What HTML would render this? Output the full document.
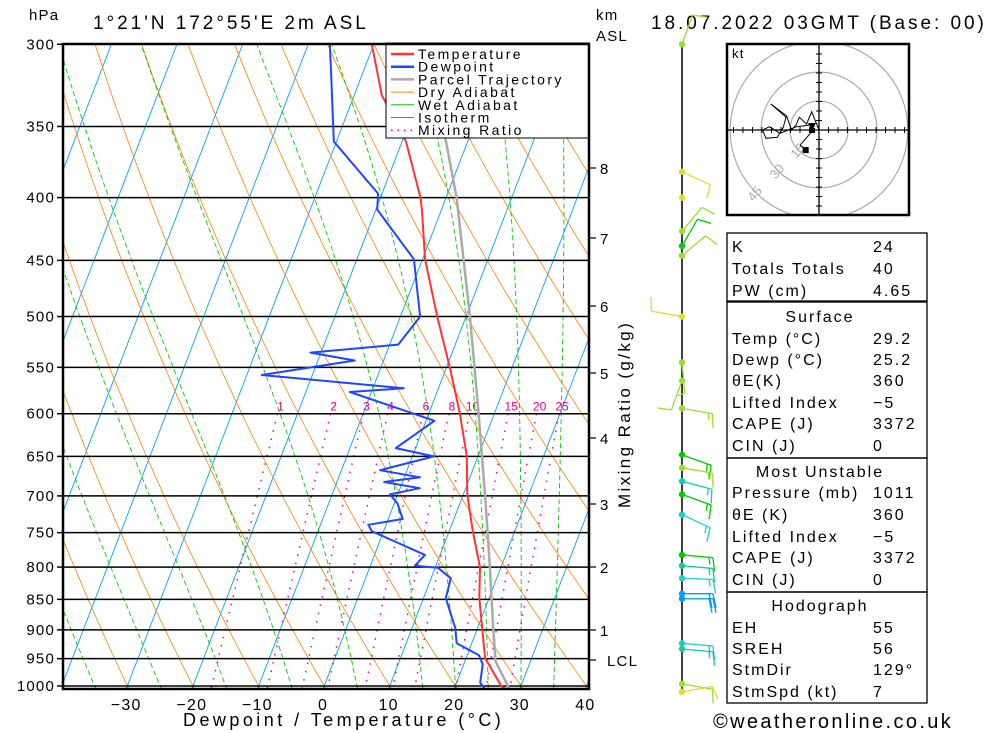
<!DOCTYPE html>
<html><head><meta charset="utf-8">
<style>
html,body{margin:0;padding:0;background:#fff;}
svg{display:block;font-family:"Liberation Sans",sans-serif;}
.t{letter-spacing:1.2px;fill:#000;}
.tb{letter-spacing:2px;fill:#000;}
</style></head>
<body>
<svg id="chart" width="1000" height="733" viewBox="0 0 1000 733" xmlns="http://www.w3.org/2000/svg">
<defs><clipPath id="plotclip"><rect x="63" y="44" width="526" height="645"/></clipPath>
<clipPath id="hodoclip"><rect x="727" y="44" width="182" height="171"/></clipPath></defs>
<rect x="0" y="0" width="1000" height="733" fill="#fff"/>
<g id="bg" clip-path="url(#plotclip)"></g>
<g id="plines"></g>
<g id="series" clip-path="url(#plotclip)"></g>
<g id="legend">
  <rect x="386" y="43" width="203" height="95" fill="#fff" stroke="#000" stroke-width="1"/>
</g>
<rect x="63" y="44" width="526" height="645" fill="none" stroke="#000" stroke-width="2.5"/>
<g id="axes"></g>
<text class="t" x="29" y="20" font-size="15">hPa</text>
<text class="t" x="93" y="29" font-size="19" textLength="274" lengthAdjust="spacing">1°21'N  172°55'E  2m  ASL</text>
<text class="t" x="596" y="20" font-size="15">km</text>
<text class="t" x="596" y="41" font-size="15">ASL</text>
<text class="t" x="651" y="29" font-size="19" textLength="334" lengthAdjust="spacing">18.07.2022 03GMT (Base: 00)</text>
<text class="t" x="183" y="726" font-size="18" textLength="319" lengthAdjust="spacing">Dewpoint / Temperature (°C)</text>
<text class="t" x="630" y="508" font-size="17" textLength="186" lengthAdjust="spacing" transform="rotate(-90 630 508)">Mixing Ratio (g/kg)</text>
<g id="barbs"></g>
<g id="hodo"></g>
<g id="table"></g>
<text class="t" x="713" y="728" font-size="20" textLength="239" lengthAdjust="spacing">©weatheronline.co.uk</text>
</svg>
<script>
// ---- data ----
const pressureLevels = [300,350,400,450,500,550,600,650,700,750,800,850,900,950,1000];
const tempTicks = [-30,-20,-10,0,10,20,30,40];
const tempP = [1011,1000,976,949,897,848,800,748,698,650,598,550,500,449,409,400,360,330,300];
const tempT = [28.6,27.0,25.1,22.9,20.7,18.5,16.8,13.6,10.6,8.3,4.6,0.5,-4.4,-9.6,-13.0,-13.9,-19.4,-25.8,-30.3];
const dewP = [1011,994,960,944,923,897,848,817,801,798,782,748,739,731,710,698,690,682,676,667,650,640,608,576,572,558,543,535,527,500,449,409,397,360,315,300];
const dewT = [25.2,23.6,22.9,21.8,17.7,16.6,13.4,13.0,10.4,6.8,7.7,-1.8,-2.7,2.2,0.5,-1.2,3.0,-2.8,2.4,-4.1,3.3,-3.0,1.3,-13.3,-5.3,-27.7,-14.4,-21.6,-8.7,-7.0,-11.3,-19.8,-20.6,-30.4,-35.0,-36.7];
const parcelP = [1011,955,900,800,700,600,500,400,360,330,300];
const parcelT = [28.8,24.7,22.5,18.3,13.4,7.6,0.6,-8.4,-13.3,-17.5,-22.5];
const mixRatios = [1,2,3,4,6,8,10,15,20,25];
const wetThetas = [-35,-25,-15,-5,5,15,20,25,30,35];
const kmLabels = ['8','7','6','5','4','3','2','1','LCL'];
const kmY = [168,238,306,373,438,504,567,630,660];
const barbP = [300,381,426,438,446,500,545,564,594,648,664,681,698,725,782,798,817,841,849,923,933,996,1011];
const barbDir = [20,115,40,30,50,280,175,200,100,110,100,105,110,115,95,95,92,90,90,95,95,100,80];
const barbSpd = [10,10,10,10,10,10,5,10,15,15,15,15,15,15,15,15,15,20,20,15,15,10,10];
const barbCol = ['#99dd33','#dddd33','#99dd33','#00cc00','#99dd33','#dddd33','#99dd33','#99dd33','#99dd33','#00cc00','#99dd33','#11ccbb','#00cc00','#22cccc','#00cc00','#11cc99','#22cccc','#0099ff','#0099ff','#22cccc','#11cc99','#99dd33','#dddd33'];
const calmP = [400];
const hodoU = [0,-3.8,-6.4,-10.2,-11.9,-14.2,-16.8,-25.0,-17.1,-18.5,-21.6,-27.5,-29.2,-25.7,-20.2,-11.6,-4.7,-2.9,-9.8,-6.9];
const hodoV = [0,9.5,3.1,6.6,2.6,0,7.3,13.5,6.6,1.4,-3.8,-4.3,0,1.7,-1.7,1.7,2.6,0,-7.8,-10.4];
const hodoRings = [15,30,45];
const tblLabels = ['K','Totals Totals','PW (cm)','Temp (°C)','Dewp (°C)','θE(K)','Lifted Index','CAPE (J)','CIN (J)','Pressure (mb)','θE (K)','Lifted Index','CAPE (J)','CIN (J)','EH','SREH','StmDir','StmSpd (kt)'];
const tblValues = ['24','40','4.65','29.2','25.2','360','−5','3372','0','1011','360','−5','3372','0','55','56','129°','7'];
const tblY = [252,274,296,344,365,386,408,429,451,498,520,542,563,585,633,654,675,697];

// ---- axis functions ----
const NS='http://www.w3.org/2000/svg';
function Y(p){return 686-533*Math.log(1000/p);}
function X(T,p){return 323+6.56*T+0.384*(689-Y(p));}
function mk(tag,attrs,parent){const e=document.createElementNS(NS,tag);for(const k in attrs)e.setAttribute(k,attrs[k]);parent.appendChild(e);return e;}
function pathD(pts){return pts.map((q,i)=>(i?'L':'M')+q[0].toFixed(1)+' '+q[1].toFixed(1)).join(' ');}
const bg=document.getElementById('bg');
const series=document.getElementById('series');

for(let T=-120;T<=40;T+=10){
  const el=mk('line',{x1:X(T,1050),y1:Y(1050),x2:X(T,280),y2:Y(280),stroke:'#00a0ff','stroke-width':0.9},bg);
  
  
}
for(let Tc=-60;Tc<=130;Tc+=10){
  const th=Tc+273.15;const pts=[];
  for(let p=1050;p>=280;p-=10){pts.push([X(th*Math.pow(p/1000,0.286)-273.15,p),Y(p)]);}
  const el=mk('path',{d:pathD(pts),fill:'none',stroke:'#ff8000','stroke-width':0.8},bg);
  
  
}
function es(T){return 6.112*Math.exp(17.67*(T-273.15)/(T-29.65));}
function dTdp(T,p){const e=es(T);const rs=0.622*e/(p-e);return (287*T+2.5e6*rs)/(p*(1005+2.5e6*2.5e6*rs*0.622/(287*T*T)));}
wetThetas.forEach(tw=>{
  const pts=[];let T=tw+273.15;
  let T2=T;for(let p=1000;p<1050;p+=2){T2+=dTdp(T2,p)*2;} pts.push([X(T2-273.15,1050),Y(1050)]);
  for(let p=1000;p>=280;p-=2){pts.push([X(T-273.15,p),Y(p)]);T-=dTdp(T,p)*2;}
  const el=mk('path',{d:pathD(pts),fill:'none',stroke:'#00cc00','stroke-width':0.9,'stroke-dasharray':'5 3'},bg);
  
  
});
mixRatios.forEach(w=>{
  const pts=[];
  for(let p=600;p<=1050;p+=10){const e=w/1000*p/(0.622+w/1000);const l=Math.log(e/6.112);pts.push([X(243.5*l/(17.67-l),p),Y(p)]);}
  const el=mk('path',{d:pathD(pts),fill:'none',stroke:'#ff0080','stroke-width':1.5,'stroke-dasharray':'1.5 7'},bg);
  
  
  const e6=w/1000*600/(0.622+w/1000);const l6=Math.log(e6/6.112);
  const tx=mk('text',{x:X(243.5*l6/(17.67-l6),600)+3,y:Y(600)-3,'font-size':12,fill:'#ee0088','text-anchor':'middle'},bg);
  tx.textContent=w;
  
  
});
const pl=document.getElementById('plines');
const axes=document.getElementById('axes');
pressureLevels.forEach(p=>{
  const el=mk('line',{x1:63,y1:Y(p),x2:589,y2:Y(p),stroke:'#000','stroke-width':1.5},pl);
  
  
  const tk=mk('line',{x1:57,y1:Y(p),x2:63,y2:Y(p),stroke:'#000','stroke-width':1.5},axes);
  
  
  const tx=mk('text',{x:55,y:Y(p)+5,'font-size':15,'text-anchor':'end',class:'t'},axes);
  tx.textContent=p;
  
  
});
tempTicks.forEach(T=>{
  const tx=mk('text',{x:323+6.56*T,y:710,'font-size':16,'text-anchor':'middle',class:'t'},axes);
  tx.textContent=T<0?'−'+(-T):String(T);
  
  
});
kmLabels.forEach((lab,i)=>{
  const y=kmY[i];
  const tk=mk('line',{x1:589,y1:y,x2:596,y2:y,stroke:'#000','stroke-width':1.2},axes);
  
  
  const tx=mk('text',{x:lab==='LCL'?607:600,y:y+6,'font-size':15,class:'t'},axes);
  tx.textContent=lab;
  
  
});
function profile(P,T,color,w,name){
  const pts=P.map((p,i)=>[X(T[i],p),Y(p)]);
  const el=mk('path',{d:pathD(pts),fill:'none',stroke:color,'stroke-width':w,'stroke-linejoin':'round'},series);
  
  
}
profile(parcelP,parcelT,'#aaaaaa',2.5,'parcel-trajectory-line');
profile(tempP,tempT,'#ff3333',2,'temperature-line');
profile(dewP,dewT,'#2244ff',2,'dewpoint-line');

const lg=document.getElementById('legend');
const legItems=[['Temperature','#ff3333',2.5,''],['Dewpoint','#2244ff',2.5,''],['Parcel Trajectory','#aaaaaa',2.5,''],['Dry Adiabat','#ff8000',1,''],['Wet Adiabat','#00cc00',1,''],['Isotherm','#00a0ff',1,''],['Mixing Ratio','#ff0080',1.5,'1.5 5']];
legItems.forEach((it,i)=>{
  const y=54+i*12.7;
  const ln=mk('line',{x1:391,y1:y,x2:414,y2:y,stroke:it[1],'stroke-width':it[2]},lg);
  if(it[3])ln.setAttribute('stroke-dasharray',it[3]);
  
  
  const tx=mk('text',{x:418,y:y+5,'font-size':14,class:'t',style:'letter-spacing:2.4px'},lg);
  tx.textContent=it[0];
  
  
});

const bb=document.getElementById('barbs');
const staff=mk('line',{x1:682,y1:44,x2:682,y2:689,stroke:'#000','stroke-width':1.5},bb);


barbP.forEach((p,i)=>{
  const y=Y(p),x=682,d=barbDir[i]*Math.PI/180,L=31;
  const ux=Math.sin(d),uy=-Math.cos(d);
  const ex=x+ux*L,ey=y+uy*L;
  const g=mk('g',{stroke:barbCol[i],'stroke-width':1.3,fill:'none'},bb);
  
  
  mk('line',{x1:x,y1:y,x2:ex,y2:ey},g);
  let s=barbSpd[i],k=0;
  const fx=-uy,fy=ux;
  while(s>=10){const bx=ex-ux*k*4,by=ey-uy*k*4;mk('line',{x1:bx,y1:by,x2:bx+fx*14+ux*3,y2:by+fy*14+uy*3},g);s-=10;k++;}
  if(s>=5){const bx=ex-ux*k*4,by=ey-uy*k*4;mk('line',{x1:bx,y1:by,x2:bx+fx*7+ux*1.5,y2:by+fy*7+uy*1.5},g);}
  const c=mk('circle',{cx:x,cy:y,r:3.2,fill:barbCol[i]},bb);
  
  
});
calmP.forEach(p=>{
  const c=mk('circle',{cx:682,cy:Y(p),r:3.2,fill:'#dddd33'},bb);
  
  
});

const hd=document.getElementById('hodo');
const hcx=819,hcy=130,ks=1.93;
const hinner=mk('g',{'clip-path':'url(#hodoclip)'},hd);


hodoRings.forEach(r=>{
  const rr=r*ks+(r===45?2:0);
  const c=mk('circle',{cx:hcx,cy:hcy,r:rr,fill:'none',stroke:'#aaaaaa','stroke-width':1.2},hinner);
  
  
  const tx=mk('text',{x:hcx-rr*0.72,y:hcy+rr*0.72+4,'font-size':13,fill:'#aaaaaa','text-anchor':'middle',transform:`rotate(-50 ${hcx-rr*0.72} ${hcy+rr*0.72})`},hinner);
  tx.textContent=r;
  
  
});
mk('line',{x1:727,y1:hcy,x2:909,y2:hcy,stroke:'#000','stroke-width':1.3},hinner);
mk('line',{x1:hcx,y1:44,x2:hcx,y2:215,stroke:'#000','stroke-width':1.3},hinner);
for(let k=-9;k<=9;k++){if(!k)continue;const o=k*5*ks*0.985;
  mk('line',{x1:hcx+o,y1:hcy-3,x2:hcx+o,y2:hcy+3,stroke:'#000','stroke-width':1},hinner);
  mk('line',{x1:hcx-3,y1:hcy+o,x2:hcx+3,y2:hcy+o,stroke:'#000','stroke-width':1},hinner);}
const hpts=hodoU.map((u,i)=>[hcx+u*ks,hcy-hodoV[i]*ks]);
const hl=mk('path',{d:pathD(hpts),fill:'none',stroke:'#000','stroke-width':1},hinner);


const tri=mk('path',{d:`M${hcx-11} ${hcy-7} L${hcx-3} ${hcy-7} L${hcx-7} ${hcy+1} Z M${hcx-9} ${hcy-2} h5 v5 h-5 Z`,fill:'#000'},hinner);


const sq=mk('rect',{x:hpts[hpts.length-1][0]-3,y:hpts[hpts.length-1][1]-3,width:6,height:6,fill:'#000'},hinner);


const hb=mk('rect',{x:727,y:44,width:182,height:171,fill:'none',stroke:'#000','stroke-width':2.5},hd);


const kt=mk('text',{x:732,y:58,'font-size':13,class:'t'},hd);
kt.textContent='kt';



const tb=document.getElementById('table');
[[233,301],[302,458],[458,592],[592,703]].forEach(b=>{
  const r=mk('rect',{x:727,y:b[0],width:200,height:b[1]-b[0],fill:'none',stroke:'#000','stroke-width':1.3},tb);
  
  
});
[['Surface',322],['Most Unstable',477],['Hodograph',611]].forEach(h=>{
  const tx=mk('text',{x:820,y:h[1],'font-size':16,'text-anchor':'middle',class:'tb'},tb);
  tx.textContent=h[0];
  
  
});
tblLabels.forEach((l,i)=>{
  const tx=mk('text',{x:732,y:tblY[i],'font-size':16,class:'tb'},tb);
  tx.textContent=l;
  
  
  const tv=mk('text',{x:873,y:tblY[i],'font-size':16,class:'tb'},tb);
  tv.textContent=tblValues[i];
  
  
});
</script>
</body></html>
